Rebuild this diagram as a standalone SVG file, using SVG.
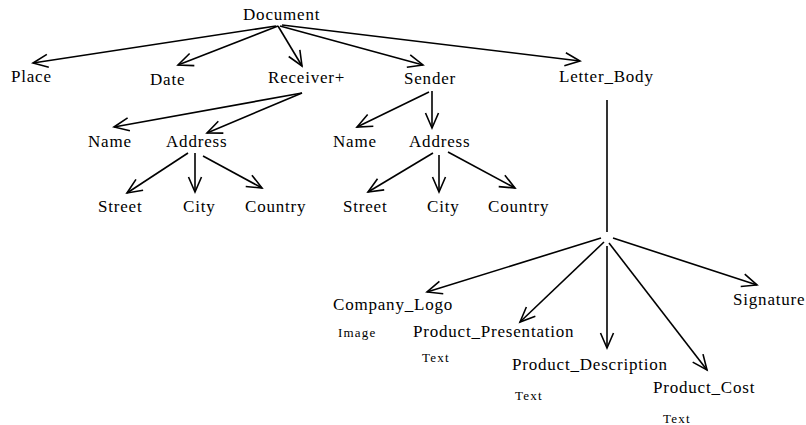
<svg xmlns="http://www.w3.org/2000/svg" width="806" height="425" viewBox="0 0 806 425">
<defs>
<marker id="arr" markerUnits="userSpaceOnUse" markerWidth="20" markerHeight="20" viewBox="-16 -10 20 20" refX="0" refY="0" orient="auto">
<path d="M-15,-6.5 L0,0 L-15,6.5" fill="none" stroke="#000" stroke-width="1.6"/>
</marker>
<style>
text{font-family:"Liberation Serif","Times New Roman",serif;fill:#000}
.n{font-size:17px;letter-spacing:0.8px}
.s{font-size:13px;letter-spacing:1.2px}
.c line{stroke:#000;stroke-width:1.6;fill:none}
.c line.a{marker-end:url(#arr)}
</style>
</defs>
<rect width="806" height="425" fill="#fff"/>
<g class="c" id="connectors">
<line class="a" x1="276" y1="26" x2="33" y2="63"/>
<line class="a" x1="278" y1="26" x2="178" y2="65"/>
<line class="a" x1="278" y1="26" x2="302" y2="66"/>
<line class="a" x1="280" y1="26" x2="423" y2="65"/>
<line class="a" x1="282" y1="25" x2="580" y2="61"/>
<line class="a" x1="302" y1="93" x2="114" y2="127"/>
<line class="a" x1="302" y1="93" x2="207" y2="133"/>
<line class="a" x1="188" y1="153" x2="127" y2="193"/>
<line class="a" x1="195" y1="153" x2="195" y2="192"/>
<line class="a" x1="203" y1="156" x2="262" y2="188"/>
<line class="a" x1="429" y1="92" x2="357" y2="127"/>
<line class="a" x1="432" y1="91" x2="432" y2="128"/>
<line class="a" x1="433" y1="153" x2="368" y2="192"/>
<line class="a" x1="439" y1="155" x2="439" y2="192"/>
<line class="a" x1="448" y1="152" x2="515" y2="188"/>
<line x1="607" y1="100" x2="607" y2="232"/>
<line class="a" x1="601" y1="238" x2="427" y2="292"/>
<line class="a" x1="604" y1="242" x2="520" y2="322"/>
<line class="a" x1="607" y1="246" x2="607" y2="348"/>
<line class="a" x1="609" y1="243" x2="707" y2="370"/>
<line class="a" x1="613" y1="238" x2="757" y2="285"/>
</g>
<g id="Document"><text class="n" x="243" y="20">Document</text></g>
<g id="Place"><text class="n" x="11" y="82">Place</text></g>
<g id="Date"><text class="n" x="150" y="85">Date</text></g>
<g id="Receiver"><text class="n" x="268" y="83">Receiver+</text></g>
<g id="Sender"><text class="n" x="404" y="84">Sender</text></g>
<g id="Letter_Body"><text class="n" x="559" y="82">Letter_Body</text></g>
<g id="R_Name"><text class="n" x="88" y="147">Name</text></g>
<g id="R_Address"><text class="n" x="166" y="147">Address</text></g>
<g id="R_Street"><text class="n" x="98" y="212">Street</text></g>
<g id="R_City"><text class="n" x="183" y="212">City</text></g>
<g id="R_Country"><text class="n" x="245" y="212">Country</text></g>
<g id="S_Name"><text class="n" x="333" y="147">Name</text></g>
<g id="S_Address"><text class="n" x="409" y="147">Address</text></g>
<g id="S_Street"><text class="n" x="343" y="212">Street</text></g>
<g id="S_City"><text class="n" x="427" y="212">City</text></g>
<g id="S_Country"><text class="n" x="488" y="212">Country</text></g>
<g id="Company_Logo"><text class="n" x="333" y="310">Company_Logo</text><text class="s" x="338" y="337">Image</text></g>
<g id="Product_Presentation"><text class="n" x="413" y="337">Product_Presentation</text><text class="s" x="422" y="362">Text</text></g>
<g id="Product_Description"><text class="n" x="512" y="370">Product_Description</text><text class="s" x="515" y="400">Text</text></g>
<g id="Product_Cost"><text class="n" x="653" y="393">Product_Cost</text><text class="s" x="663" y="423">Text</text></g>
<g id="Signature"><text class="n" x="733" y="305">Signature</text></g>
</svg>
